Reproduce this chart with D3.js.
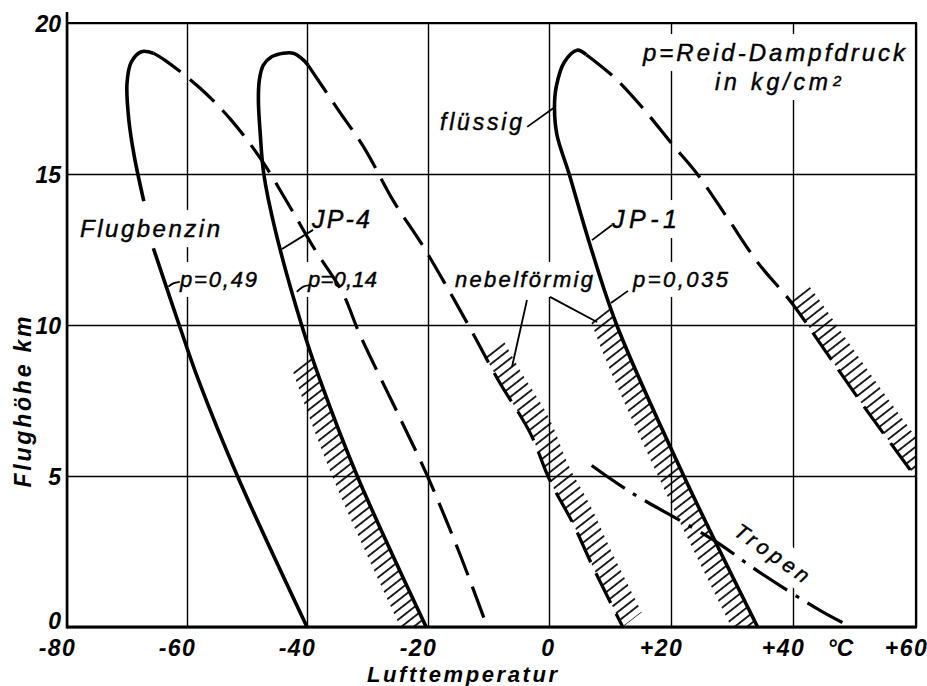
<!DOCTYPE html>
<html><head><meta charset="utf-8">
<script src="https://cdn.jsdelivr.net/npm/d3@7"></script>
<style>
body{margin:0;background:#fff;}
svg{display:block;}
</style></head><body>
<svg id="c" width="927" height="686"></svg>
<script>
// ---------------- data ----------------
const xTicks = [-80, -60, -40, -20, 0, 20, 40, 60];
const xTickLabels = ["-80", "-60", "-40", "-20", "0", "+20", "+40", "+60"];
const yTicks = [0, 5, 10, 15, 20];
const yTickLabels = ["0", "5", "10", "15", "20"];
const unitLabel = "°C";
const xTitle = "Lufttemperatur";
const yTitle = "Flughöhe km";

// [temperature °C, altitude km]; null = gap for the label
const flugbenzinSolid = [[-40,0],[-51.6,5],[-58.1,8.18],[-61.3,10],[-65.6,12.54],null,
  [-67.2,14.1],[-68.8,15.6],[-69.7,16.8],[-70.0,18.0],[-69.3,18.7],[-67.6,19.05],[-65.6,19.0]];
const flugbenzinDashed = [[-65.6,19.0],[-63.7,18.77],[-57.8,17.84],[-52.7,16.8],[-47.7,15.5],[-43.1,14.0],
  [-38.7,12.5],[-34.2,11.1],[-31.3,9.7],[-24.7,6.95],[-20.1,5.0],[-14.8,2.45],[-10.2,0]];
const jp4Solid = [[-20.3,0],[-31.7,5],[-37.85,8.18],[-40.9,10],[-45.3,13.15],[-47.2,15],[-47.8,16.35],
  [-48.1,17.45],[-47.95,18.1],[-47.3,18.6],[-45.9,18.88],[-43.95,19.0],[-42.3,19.0],[-40.9,18.83],[-39.8,18.6]];
const jp4Dashed = [[-39.8,18.6],[-35.1,17.2],[-30.5,15.85],[-25.7,14.1],[-21.1,12.7],[-16.9,11.27],
  [-12.7,9.77],[-8.4,8.18],[-3.1,6.42],[0.1,4.87],[3.9,3.44],[7.2,1.99],[12.1,0]];
const jp1Solid = [[34.2,0],[22.1,5],[11.1,10],[6.5,12.8],[3.3,15],[1.3,16.3],[0.9,17.2],[1.2,17.9],
  [2.5,18.7],[4.6,19.1],[6.1,18.95]];
const jp1Dashed = [[6.1,18.95],[7.1,18.8],[10.7,18.2],[15.3,17.2],[20.3,15.96],[24.3,15.0],[29.4,13.5],
  [34.3,12.05],[39.8,10.73],[45.5,9.07],[51.9,7.2],[59.8,5.0]];
const tropen = [[7,5.35],[13.5,4.45],[26.8,2.9],[34.6,1.8],[44.8,0.5],[49.5,0]];

// hatched ("nebelförmig") zones: boundary curve, side, altitude range km
const hatchZones = [
  {curve: "jp4Solid", side: "left", from: 0, to: 9.1},
  {curve: "jp4Dashed", side: "right", from: 0, to: 9.1},
  {curve: "jp1Solid", side: "left", from: 0, to: 10.7},
  {curve: "jp1Dashed", side: "right", from: 5, to: 10.85}
];

// text annotations [text, temp, km]
const labelTexts = ["Flugbenzin","JP-4","p=0,49","p=0,14","nebelförmig","p=0,035","JP-1","flüssig","p=Reid-Dampfdruck","in kg/cm"];
const labelPos = [[-77.83,12.91],[-39.17,13.21],[-61.17,11.26],[-39.83,11.26],[-15.54,11.26],[13.77,11.26],
  [10.33,13.21],[-18.02,16.46],[15.41,18.74],[27.21,17.78]];
const labelWidths = [140,58,77,69,138,95,65,82,262,113];
const labelSizes = [24,25,22,22,22,22,25,23,24,23];
const superscript = {text: "2", pos: [46.5, 17.93]};
const tropenLabel = {text: "Tropen", pos: [36.56, 2.45], angle: 35, width: 86};

// leader lines
const leaders = [
  [[-3.6,16.56],[0.98,17.22]],
  [[7.05,12.81],[10.33,13.31]],
  [[10.16,10.73],[12.95,11.13]],
  [[-44.17,12.52],[-39.0,13.15]],
  [[-63.1,11.27],[-62.3,11.38],[-61.2,11.43]],
  [[-41.7,11.1],[-40.6,11.27],[-39.5,11.32]],
  [[-3.64,10.83],[-6.12,8.61]],
  [[0.16,10.93],[7.87,10.1]]
];

// ---------------- drawing ----------------
const svg = d3.select("#c");
const FONT = "'Liberation Sans', Arial, sans-serif";
const x = d3.scaleLinear().domain(xTicks).range([67,187,307,428,549,671,793,916]);
const y = d3.scaleLinear().domain([0,20]).range([627,23]);

svg.append("rect").attr("width",927).attr("height",686).attr("fill","#fff");

const defs = svg.append("defs");
const pat = defs.append("pattern").attr("id","hatch").attr("patternUnits","userSpaceOnUse")
  .attr("width",7.6).attr("height",20).attr("patternTransform","rotate(52)");
pat.append("line").attr("x1",3.8).attr("x2",3.8).attr("y1",0).attr("y2",20)
  .attr("stroke","#000").attr("stroke-width",1.7);
defs.append("clipPath").attr("id","plot").append("rect")
  .attr("x",x(-80)).attr("y",y(20)).attr("width",x(60)-x(-80)).attr("height",y(0)-y(20));

// grid via axes
const gx = svg.append("g").attr("transform",`translate(0,${y(0)})`)
  .call(d3.axisBottom(x).tickValues(xTicks).tickSize(-(y(0)-y(20))).tickFormat((d,i)=>xTickLabels[i]));
gx.select(".domain").remove();
gx.selectAll(".tick line").attr("stroke","#000").attr("stroke-width",1.4);
gx.selectAll(".tick text").attr("fill","#000").attr("font-family",FONT).attr("font-style","italic")
  .attr("font-weight","bold").attr("font-size",23).attr("letter-spacing",1.5)
  .attr("y",29).attr("dy",0)
  .attr("dx",(d,i)=> xTickLabels[i].length>1 && /[+-]/.test(xTickLabels[i][0]) ? -10 : -1);

const gy = svg.append("g").attr("transform",`translate(${x(-80)},0)`)
  .call(d3.axisLeft(y).tickValues(yTicks).tickSize(-(x(60)-x(-80))).tickFormat((d,i)=>yTickLabels[i]));
gy.select(".domain").remove();
gy.selectAll(".tick line").attr("stroke","#000").attr("stroke-width",1.4);
gy.selectAll(".tick text").attr("fill","#000").attr("font-family",FONT).attr("font-style","italic")
  .attr("font-weight","bold").attr("font-size",23).attr("x",-6)
  .attr("dy",(d)=> d===0 ? "0.06em" : "0.36em");

// unit label
svg.append("text").attr("x",(x(40)+x(60))/2-14).attr("y",y(0)+29).attr("text-anchor","middle")
  .attr("font-family",FONT).attr("font-style","italic").attr("font-weight","bold").attr("font-size",23)
  .text(unitLabel);

// axis titles
svg.append("text").attr("x",(367+557)/2).attr("y",682).attr("text-anchor","middle")
  .attr("font-family",FONT).attr("font-style","italic").attr("font-weight","bold").attr("font-size",22)
  .attr("textLength",190).attr("lengthAdjust","spacing").text(xTitle);
svg.append("text").attr("transform","translate(31,402) rotate(-90)").attr("text-anchor","middle")
  .attr("font-family",FONT).attr("font-style","italic").attr("font-weight","bold").attr("font-size",23)
  .attr("textLength",171).attr("lengthAdjust","spacing").text(yTitle);

// layers
const haloG = svg.append("g");
const hatchG = svg.append("g").attr("clip-path","url(#plot)");
const frameG = svg.append("g");
const lineG = svg.append("g");
const textG = svg.append("g");

function addLabel(t, px, py, w, size){
  const el = textG.append("text").attr("x",px).attr("y",py).attr("font-family",FONT)
    .attr("font-style","italic").attr("font-size",size).attr("fill","#000")
    .attr("stroke","#000").attr("stroke-width",0.45).text(t);
  if (w) el.attr("textLength",w).attr("lengthAdjust","spacing");
  return el;
}
function knockout(el, padX, padY){
  const b = el.node().getBBox();
  haloG.append("rect").attr("x",b.x-padX).attr("y",b.y-padY)
    .attr("width",b.width+2*padX).attr("height",b.height+2*padY)
    .attr("transform",el.attr("transform")).attr("fill","#fff");
}
labelTexts.forEach((t,i)=> knockout(addLabel(t, x(labelPos[i][0]), y(labelPos[i][1]), labelWidths[i], labelSizes[i]),3,5));
knockout(addLabel(superscript.text, x(superscript.pos[0]), y(superscript.pos[1]), null, 15),2,4);
knockout(addLabel(tropenLabel.text, 0, 0, tropenLabel.width, 21)
  .attr("text-anchor","middle").attr("dy","0.35em")
  .attr("transform",`translate(${x(tropenLabel.pos[0])},${y(tropenLabel.pos[1])}) rotate(${tropenLabel.angle})`),3,5);

// curves
const line = d3.line().defined(d=>d).x(d=>x(d[0])).y(d=>y(d[1])).curve(d3.curveCatmullRom.alpha(0.5));
const curves = {flugbenzinSolid, flugbenzinDashed, jp4Solid, jp4Dashed, jp1Solid, jp1Dashed};
const nodes = {};
Object.entries(curves).forEach(([k,data])=>{
  const dashed = /Dashed/.test(k);
  nodes[k] = lineG.append("path").attr("d",line(data)).attr("fill","none").attr("stroke","#000")
    .attr("stroke-width", dashed ? 3.2 : 3.6).attr("stroke-linecap","butt")
    .attr("stroke-dasharray", dashed ? "33,12" : null).node();
});
lineG.append("path").attr("d",line(tropen)).attr("fill","none").attr("stroke","#000")
  .attr("stroke-width",3.2).attr("stroke-dasharray","40,10,4,10");

// hatch bands
const HL = 24, ang = 38*Math.PI/180;
hatchZones.forEach(z=>{
  const node = nodes[z.curve];
  const L = node.getTotalLength();
  const top = y(z.to), bot = y(z.from);
  const pts = [];
  for (let s=0; s<=L; s+=1.5){
    const p = node.getPointAtLength(s);
    if (p.y >= top-0.01 && p.y <= bot+0.01) pts.push([p.x,p.y]);
  }
  const last = node.getPointAtLength(L);
  if (last.y >= top && last.y <= bot) pts.push([last.x,last.y]);
  const dx = (z.side==="left" ? -1 : 1)*HL*Math.cos(ang);
  const dy = (z.side==="left" ? 1 : -1)*HL*Math.sin(ang);
  const outer = pts.map(p=>[p[0]+dx,p[1]+dy]).reverse();
  hatchG.append("path").attr("d","M"+pts.concat(outer).map(p=>p.join(",")).join("L")+"Z")
    .attr("fill","url(#hatch)").attr("stroke","none");
});

// frame
frameG.append("line").attr("x1",x(-80)).attr("x2",x(-80)).attr("y1",12).attr("y2",y(0)+1.5)
  .attr("stroke","#000").attr("stroke-width",2.6);
frameG.append("line").attr("x1",x(-80)).attr("x2",x(60)+1).attr("y1",y(0)).attr("y2",y(0))
  .attr("stroke","#000").attr("stroke-width",3.2);
frameG.append("line").attr("x1",x(-80)).attr("x2",x(60)+1).attr("y1",y(20)).attr("y2",y(20))
  .attr("stroke","#000").attr("stroke-width",2.2);
frameG.append("line").attr("x1",x(60)).attr("x2",x(60)).attr("y1",y(20)).attr("y2",y(0))
  .attr("stroke","#000").attr("stroke-width",2.2);

// leaders
const lin = d3.line().x(d=>x(d[0])).y(d=>y(d[1])).curve(d3.curveCatmullRom);
leaders.forEach(l=> lineG.append("path").attr("d",lin(l)).attr("fill","none")
  .attr("stroke","#000").attr("stroke-width",1.8));
</script>
</body></html>
